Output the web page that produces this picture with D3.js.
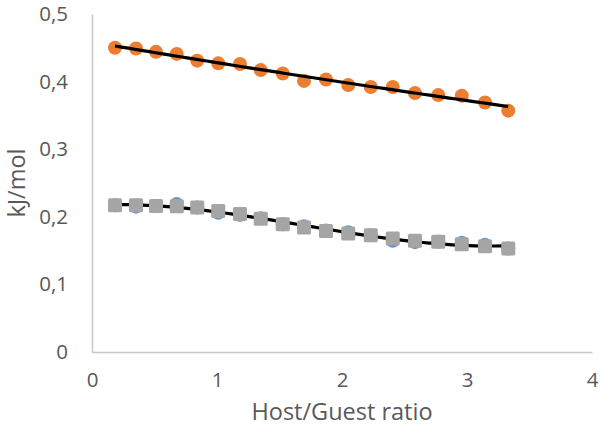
<!DOCTYPE html>
<html>
<head>
<meta charset="utf-8">
<script src="https://cdn.jsdelivr.net/npm/d3@7"></script>
<style>
  body { margin: 0; background: #fff; }
  svg text { font-family: "Open Sans", sans-serif; fill: #595959; }
</style>
</head>
<body>
<script>
// Host/Guest ratio (x) and energies in kJ/mol
let ratios = [0.184, 0.352, 0.512, 0.678, 0.842, 1.01, 1.184, 1.35, 1.526, 1.696,
              1.872, 2.05, 2.23, 2.406, 2.584, 2.77, 2.958, 3.144, 3.33];
let orangeVals = [0.450, 0.449, 0.444, 0.441, 0.431, 0.427, 0.426, 0.417, 0.412, 0.401,
                  0.403, 0.395, 0.392, 0.392, 0.383, 0.380, 0.379, 0.369, 0.357];
let blueVals = [0.217, 0.215, 0.216, 0.219, 0.2137, 0.206, 0.2028, 0.198, 0.189, 0.1861,
                0.1797, 0.177, 0.1728, 0.1644, 0.1625, 0.163, 0.1615, 0.1585, 0.153];
let greyVals = [0.2171, 0.2171, 0.2161, 0.2157, 0.2137, 0.2087, 0.204, 0.1971, 0.189, 0.184,
                0.179, 0.1753, 0.1728, 0.168, 0.1644, 0.163, 0.1595, 0.1566, 0.1532];
let xTicks = [0, 1, 2, 3, 4];
let yTicks = [0, 0.1, 0.2, 0.3, 0.4, 0.5];

let margin = {top: 14, right: 10, bottom: 89, left: 92};
let width = 602 - margin.left - margin.right,
    height = 441 - margin.top - margin.bottom;

// least squares polynomial fit (like an Excel trendline)
function polyFit(xs, ys, deg) {
    let n = deg + 1;
    let A = [...Array(n)].map(() => Array(n + 1).fill(0));
    xs.forEach((x, k) => {
        for (let i = 0; i < n; i++) {
            for (let j = 0; j < n; j++) A[i][j] += x ** (i + j);
            A[i][n] += ys[k] * x ** i;
        }
    });
    for (let c = 0; c < n; c++) {
        let p = c;
        for (let r = c + 1; r < n; r++) if (Math.abs(A[r][c]) > Math.abs(A[p][c])) p = r;
        [A[c], A[p]] = [A[p], A[c]];
        for (let r = 0; r < n; r++) {
            if (r === c) continue;
            let f = A[r][c] / A[c][c];
            for (let j = c; j <= n; j++) A[r][j] -= f * A[c][j];
        }
    }
    let coef = A.map((row, i) => row[n] / row[i]);
    return x => coef.reduce((s, c, i) => s + c * x ** i, 0);
}

let svg = d3.select("body").append("svg")
    .attr("width", 602)
    .attr("height", 441);

let g = svg.append("g")
    .attr("transform", `translate(${margin.left},${margin.top})`);

let xScale = d3.scaleLinear().domain([0, 4]).range([0, width]);
let yScale = d3.scaleLinear().domain([0, 0.5]).range([height, 0]);

// axes, no tick marks
let xAxis = d3.axisBottom(xScale).tickValues(xTicks).tickSize(0).tickPadding(23)
    .tickFormat(d => d3.format("d")(d));
let yAxis = d3.axisLeft(yScale).tickValues(yTicks).tickSize(0).tickPadding(24)
    .tickFormat(d => d === 0 ? "0" : d3.format(".1f")(d).replace(".", ","));

let gx = g.append("g").attr("transform", `translate(0,${height})`).call(xAxis);
let gy = g.append("g").call(yAxis);
[gx, gy].forEach(a => {
    a.select(".domain").attr("stroke", "#c8c8c8").attr("stroke-width", 1.5);
    a.selectAll("text").style("font-size", "20.5px").attr("fill", "#595959");
});
gx.selectAll("text").attr("dy", "0.6em");

// points and trendlines
let fitSamples = d3.range(0, 61).map(i => ratios[0] + i * (ratios[ratios.length - 1] - ratios[0]) / 60);
let line = d3.line().x(d => xScale(d[0])).y(d => yScale(d[1]));

let pts = g.append("g");
let orangeFit = polyFit(ratios, orangeVals, 2);
let blueFit = polyFit(ratios, blueVals, 3);

pts.selectAll(".orange").data(ratios).join("circle")
    .attr("class", "orange")
    .attr("cx", d => xScale(d))
    .attr("cy", (d, i) => yScale(orangeVals[i]))
    .attr("r", 7)
    .attr("fill", "#ED7D31");

pts.append("path")
    .datum(fitSamples.map(x => [x, orangeFit(x)]))
    .attr("d", line)
    .attr("fill", "none")
    .attr("stroke", "#000")
    .attr("stroke-width", 3.2);

pts.selectAll(".blue").data(ratios).join("circle")
    .attr("class", "blue")
    .attr("cx", d => xScale(d))
    .attr("cy", (d, i) => yScale(blueVals[i]))
    .attr("r", 7)
    .attr("fill", "#5B9BD5");

pts.append("path")
    .datum(fitSamples.map(x => [x, blueFit(x)]))
    .attr("d", line)
    .attr("fill", "none")
    .attr("stroke", "#000")
    .attr("stroke-width", 3.2);

pts.selectAll(".grey").data(ratios).join("rect")
    .attr("class", "grey")
    .attr("x", d => xScale(d) - 7)
    .attr("y", (d, i) => yScale(greyVals[i]) - 7)
    .attr("width", 14)
    .attr("height", 14)
    .attr("rx", 1.5)
    .attr("fill", "#A5A5A5");

// axis titles
svg.append("text")
    .attr("x", margin.left + width / 2)
    .attr("y", 420)
    .attr("text-anchor", "middle")
    .style("font-size", "23.5px")
    .text("Host/Guest ratio");

svg.append("text")
    .attr("transform", `translate(25,${margin.top + yScale(0.25)}) rotate(-90)`)
    .attr("text-anchor", "middle")
    .style("font-size", "23.5px")
    .text("kJ/mol");
</script>
</body>
</html>
